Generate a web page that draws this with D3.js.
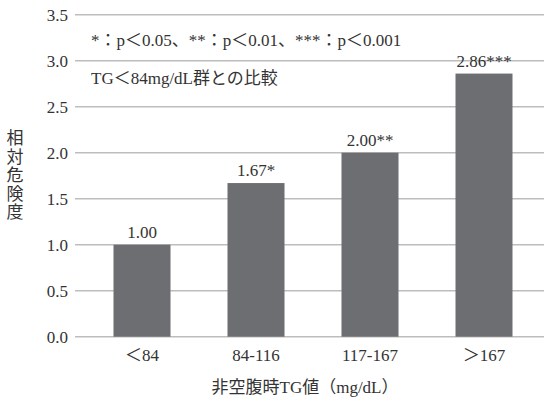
<!DOCTYPE html>
<html><head><meta charset="utf-8">
<script src="https://cdn.jsdelivr.net/npm/d3@7"></script>
<style>
body{margin:0;background:#fff;}
text{font-family:"Liberation Serif","DejaVu Serif","Noto Sans CJK JP",serif;fill:#333;}
</style></head>
<body><svg id="c" width="544" height="402"></svg>
<script>
const categories = ["＜84", "84-116", "117-167", "＞167"];
const values = [1.00, 1.67, 2.00, 2.86];
const valueLabels = ["1.00", "1.67*", "2.00**", "2.86***"];
const yTicks = [0, 0.5, 1.0, 1.5, 2.0, 2.5, 3.0, 3.5];
const noteLines = ["*：p＜0.05、**：p＜0.01、***：p＜0.001", "TG＜84mg/dL群との比較"];
const yTitle = "相対危険度";
const xTitle = "非空腹時TG値（mg/dL）";

const svg = d3.select("#c");
const y = d3.scaleLinear().domain([0, 3.5]).range([336.7, 14.7]);
const x = d3.scaleBand().domain(categories).range([85, 541]).paddingInner(0.5).paddingOuter(0.25);

// gridlines
svg.append("g").selectAll("line").data(yTicks).join("line")
  .attr("x1", 75).attr("x2", 544)
  .attr("y1", d => y(d)).attr("y2", d => y(d))
  .attr("stroke", "#bdbdbd").attr("stroke-width", 1.5);

// y tick labels
svg.append("g").selectAll("text").data(yTicks).join("text")
  .attr("x", 68).attr("y", d => y(d) + 6)
  .attr("text-anchor", "end").attr("font-size", 17)
  .text(d => d3.format(".1f")(d));

// bars
svg.append("g").selectAll("rect").data(values).join("rect")
  .attr("x", (d, i) => x(categories[i]))
  .attr("width", x.bandwidth())
  .attr("y", d => y(d))
  .attr("height", d => y(0) - y(d))
  .attr("fill", "#6d6e71");

// value labels
svg.append("g").selectAll("text").data(values).join("text")
  .attr("x", (d, i) => x(categories[i]) + x.bandwidth() / 2)
  .attr("y", d => y(d) - 7)
  .attr("text-anchor", "middle").attr("font-size", 17)
  .text((d, i) => valueLabels[i]);

// category labels
svg.append("g").selectAll("text").data(categories).join("text")
  .attr("x", d => x(d) + x.bandwidth() / 2)
  .attr("y", 361)
  .attr("text-anchor", "middle").attr("font-size", 17)
  .text(d => d);

// x title
svg.append("text").attr("x", 305).attr("y", 393)
  .attr("text-anchor", "middle").attr("font-size", 17).text(xTitle);

// y title vertical
const yt = svg.append("text").attr("font-size", 17).attr("text-anchor", "middle");
yTitle.split("").forEach((ch, i) => {
  yt.append("tspan").attr("x", 15).attr("y", 144 + i * 18.5).text(ch);
});

// notes
svg.append("g").selectAll("text").data(noteLines).join("text")
  .attr("x", 91).attr("y", (d, i) => 46 + i * 38)
  .attr("font-size", 17).text(d => d);
</script></body></html>
